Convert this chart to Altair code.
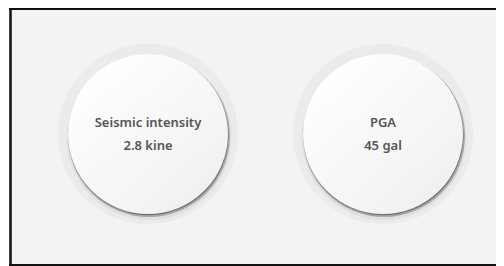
import altair as alt
import pandas as pd

labels = ["Seismic intensity", "PGA"]
values = ["2.8 kine", "45 gal"]

df = pd.DataFrame({"label": labels, "value": values})

W, H = 487, 258
CY = 126
x = alt.X("label:N", sort=labels, axis=None,
          scale=alt.Scale(domain=labels, range=[139, 374], padding=0))

base = alt.Chart(df).encode(x=x, y=alt.value(CY))

ring = base.mark_point(shape="circle", filled=True, size=180 * 180,
                       color="#ebebeb", opacity=1, strokeWidth=0)

sh1 = base.mark_point(shape="circle", filled=True, size=165 * 165,
                      color="#e0e0e0", opacity=1, strokeWidth=0,
                      xOffset=1, yOffset=3.5)
sh2 = base.mark_point(shape="circle", filled=True, size=162 * 162,
                      color="#a8a8a8", opacity=1, strokeWidth=0,
                      xOffset=1, yOffset=2)
sh3 = base.mark_point(shape="circle", filled=True, size=160 * 160,
                      color="#707070", opacity=1, strokeWidth=0,
                      xOffset=0.5, yOffset=1.2)

grad = alt.Gradient(
    gradient="linear",
    stops=[alt.GradientStop(color="#ffffff", offset=0),
           alt.GradientStop(color="#f0f0f0", offset=1)],
    x1=0.15, y1=0.1, x2=0.85, y2=0.9,
)
inner = base.mark_point(shape="circle", filled=True, size=160 * 160,
                        color=grad, opacity=1, strokeWidth=0)

t1 = base.mark_text(font="Noto Sans", fontSize=13, fontWeight=600,
                    color="#555555", yOffset=-11.5).encode(text="label:N")
t2 = base.mark_text(font="Noto Sans", fontSize=13, fontWeight=600,
                    color="#555555", yOffset=11.5).encode(text="value:N")

frame = alt.Chart(df.head(1))
left = frame.mark_rule(color="#111111", strokeWidth=2.5).encode(
    x=alt.value(1.5), y=alt.value(0), y2=alt.value(H))
top = frame.mark_rule(color="#111111", strokeWidth=2).encode(
    x=alt.value(0), x2=alt.value(W), y=alt.value(1))
bottom = frame.mark_rule(color="#111111", strokeWidth=2).encode(
    x=alt.value(0), x2=alt.value(W), y=alt.value(H - 1))

chart = alt.layer(ring, sh1, sh2, sh3, inner, t1, t2, left, top, bottom).properties(
    width=W, height=H,
    autosize=alt.AutoSizeParams(type="none"),
    padding={"left": 1, "top": 0, "right": 0, "bottom": 0},
    background="white",
).configure_view(
    fill="#f3f3f3", strokeWidth=0
)

chart.save("out.html", embed_options={"renderer": "svg", "actions": False})
